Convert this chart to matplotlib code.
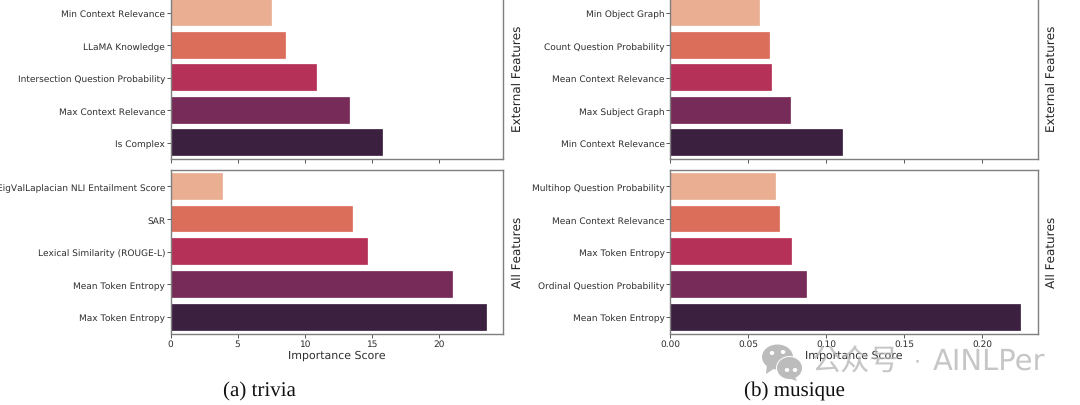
import matplotlib
matplotlib.use("Agg")
import matplotlib.pyplot as plt
from matplotlib.patches import Ellipse, Polygon

plt.rcParams["text.hinting"] = "none"
plt.rcParams["text.hinting_factor"] = 1

W, H = 1080, 406

trivia_ext_labels = ["Min Context Relevance", "LLaMA Knowledge", "Intersection Question Probability", "Max Context Relevance", "Is Complex"]
trivia_ext_values = [7.6, 8.65, 10.95, 13.4, 15.85]
trivia_all_labels = ["EigValLaplacian NLI Entailment Score", "SAR", "Lexical Similarity (ROUGE-L)", "Mean Token Entropy", "Max Token Entropy"]
trivia_all_values = [3.95, 13.6, 14.75, 21.05, 23.6]
musique_ext_labels = ["Min Object Graph", "Count Question Probability", "Mean Context Relevance", "Max Subject Graph", "Min Context Relevance"]
musique_ext_values = [0.0575, 0.064, 0.0655, 0.0775, 0.111]
musique_all_labels = ["Multihop Question Probability", "Mean Context Relevance", "Max Token Entropy", "Ordinal Question Probability", "Mean Token Entropy"]
musique_all_values = [0.068, 0.0705, 0.078, 0.088, 0.225]
trivia_ticks = [0, 5, 10, 15, 20]
musique_ticks = [0.0, 0.05, 0.10, 0.15, 0.20]
colors = ["#EAAE92", "#DB6E5A", "#B53157", "#772B58", "#3B2040"]

fig = plt.figure(figsize=(W / 100, H / 100), dpi=100, facecolor="white")

def box(x0, x1, y0, y1):
    return [x0 / W, 1 - y1 / H, (x1 - x0) / W, (y1 - y0) / H]

def panel(rect, labels, values, xlim, ticks, side, bottom, fmt):
    ax = fig.add_axes(box(*rect))
    ax.barh(range(len(values)), values, height=0.82, color=colors, edgecolor="#ffffff", linewidth=0.2)
    ax.set_ylim(4.5, -0.5)
    ax.set_xlim(*xlim)
    ax.set_yticks(range(len(labels)))
    ax.set_yticklabels(labels, fontsize=6.6, color="#2e2e2e")
    ax.set_xticks(ticks)
    if bottom:
        ax.set_xticklabels([fmt.format(t) for t in ticks], fontsize=6.6, color="#2e2e2e")
        ax.set_xlabel("Importance Score", fontsize=7.8, color="#2e2e2e", labelpad=1.2)
    else:
        ax.set_xticklabels([])
    ax.tick_params(length=2.6, width=0.7, color="#555555", pad=1.3)
    for s in ax.spines.values():
        s.set_color("#7f7f7f")
        s.set_linewidth(1.0)
    ax.yaxis.set_label_position("right")
    ax.set_ylabel(side, fontsize=8.7, color="#222222", labelpad=6.2)
    return ax

panel((170.5, 503, -2.5, 160), trivia_ext_labels, trivia_ext_values, (0, 24.8), trivia_ticks, "External Features", False, "{:d}")
panel((170.5, 503, 171, 334.5), trivia_all_labels, trivia_all_values, (0, 24.8), trivia_ticks, "All Features", True, "{:d}")
panel((670, 1037.5, -2.5, 160), musique_ext_labels, musique_ext_values, (0, 0.2355), musique_ticks, "External Features", False, "{:.2f}")
panel((670, 1037.5, 171, 334.5), musique_all_labels, musique_all_values, (0, 0.2355), musique_ticks, "All Features", True, "{:.2f}")

fig.text(259 / W, 1 - 391 / H, "(a) trivia", family="Liberation Serif", fontsize=15, color="#111111", ha="center", va="center")
fig.text(794 / W, 1 - 391 / H, "(b) musique", family="Liberation Serif", fontsize=15, color="#111111", ha="center", va="center")

# watermark
wm = "#bcbcbc"
def ell(cx, cy, w, h, c=wm, z=5):
    fig.add_artist(Ellipse((cx / W, 1 - cy / H), w / W, h / H, transform=fig.transFigure, fc=c, ec="none", zorder=z))
ell(777.5, 358, 31, 25)
fig.add_artist(Polygon([(767 / W, 1 - 365 / H), (766 / W, 1 - 375 / H), (775 / W, 1 - 369 / H)], transform=fig.transFigure, fc=wm, ec="none", zorder=5))
ell(789.5, 369, 27, 24, c="#ffffff", z=6)
ell(789.5, 369, 25, 22, z=7)
fig.add_artist(Polygon([(794 / W, 1 - 376 / H), (797 / W, 1 - 382 / H), (788 / W, 1 - 379 / H)], transform=fig.transFigure, fc=wm, ec="none", zorder=7))
for ex, ey, z in [(772, 354, 6), (783, 353, 6), (787, 371, 8), (795, 371, 8)]:
    ell(ex, ey, 4.5, 4, c="#ffffff", z=z)
fig.text(812 / W, 1 - 362 / H, "公众号", family=["Noto Sans CJK SC", "DejaVu Sans"], fontsize=21, color="#b4b4b4", alpha=0.75, ha="left", va="center", zorder=9)
fig.text(917 / W, 1 - 362 / H, "·", family="DejaVu Sans", fontsize=16, color="#b4b4b4", alpha=0.75, ha="center", va="center", zorder=9)
fig.text(933 / W, 1 - 362 / H, "AINLPer", family="DejaVu Sans", fontsize=21, color="#b4b4b4", alpha=0.75, ha="left", va="center", zorder=9)

fig.savefig("out.png", dpi=100, facecolor="white")
